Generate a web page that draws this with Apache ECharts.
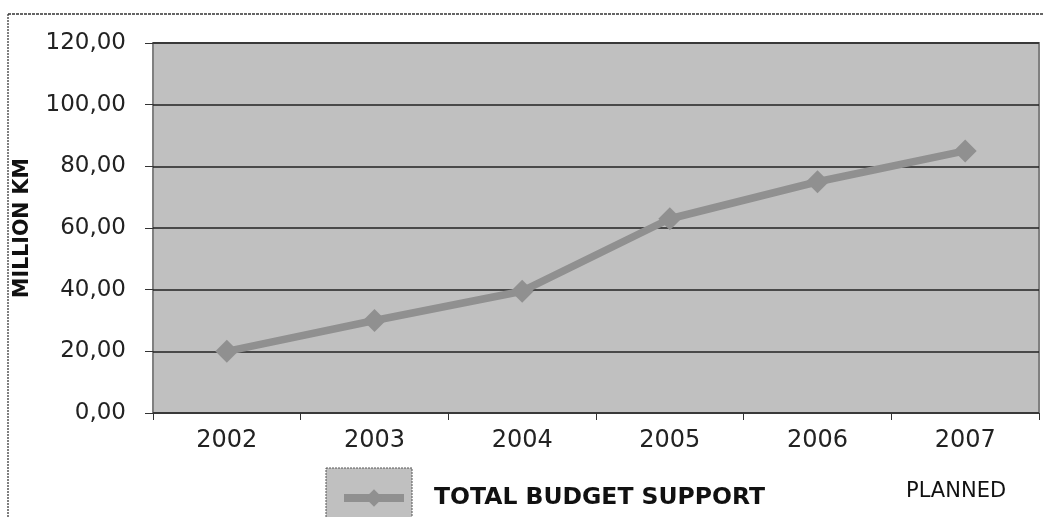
<!DOCTYPE html>
<html>
<head>
<meta charset="utf-8">
<script src="https://cdn.jsdelivr.net/npm/echarts@6/dist/echarts.min.js"></script>
<style>
  html, body { margin: 0; padding: 0; background: #fff; }
  #chart { width: 1043px; height: 517px; }
</style>
</head>
<body>
<div id="chart"></div>
<script>
// data
const years = ['2002', '2003', '2004', '2005', '2006', '2007']
const budgetSupport = [20, 30, 39.5, 63, 75, 85]
const seriesName = 'TOTAL BUDGET SUPPORT'
const noteText = 'PLANNED'
const yTitle = 'MILLION KM'

const font = 'DejaVu Sans, Verdana, sans-serif'
const chart = echarts.init(document.getElementById('chart'))

const option = {
  animation: false,
  textStyle: { fontFamily: font },
  grid: {
    left: 153,
    right: 4,
    top: 43,
    bottom: 104,
    show: true,
    backgroundColor: '#c0c0c0',
    borderColor: '#808080',
    borderWidth: 2
  },
  legend: {
    left: 340,
    top: 486,
    padding: 0,
    itemWidth: 60,
    itemHeight: 22,
    itemGap: 0,
    data: [seriesName],
    lineStyle: { width: 8, color: '#909090' },
    itemStyle: { color: '#909090' },
    textStyle: {
      fontFamily: font,
      fontSize: 23.5,
      fontWeight: 'bold',
      color: '#111',
      padding: [0, 0, 0, 25]
    }
  },
  xAxis: {
    type: 'category',
    data: years,
    boundaryGap: true,
    axisLine: { show: false },
    axisTick: {
      show: true,
      length: 7,
      lineStyle: { color: '#333' }
    },
    axisLabel: {
      fontSize: 24,
      color: '#222',
      margin: 16
    },
    splitLine: { show: false }
  },
  yAxis: {
    type: 'value',
    min: 0,
    max: 120,
    interval: 20,
    name: yTitle,
    nameLocation: 'middle',
    nameRotate: 90,
    nameGap: 120,
    nameTextStyle: {
      fontFamily: font,
      fontSize: 20.5,
      fontWeight: 'bold',
      color: '#111'
    },
    axisLine: { show: false },
    axisTick: {
      show: true,
      length: 8,
      lineStyle: { color: '#333' }
    },
    axisLabel: {
      fontSize: 23,
      color: '#222',
      margin: 27,
      formatter: (v) => v.toFixed(2).replace('.', ',')
    },
    splitLine: {
      show: true,
      lineStyle: { color: '#222', width: 1.5 }
    }
  },
  series: [
    {
      name: seriesName,
      type: 'line',
      data: budgetSupport,
      symbol: 'diamond',
      symbolSize: 23,
      lineStyle: { color: '#909090', width: 7.5 },
      itemStyle: { color: '#909090' },
      z: 5
    }
  ],
  graphic: [
    // outer chart frame (left and top visible)
    {
      type: 'line',
      shape: { x1: 8, y1: 14, x2: 8, y2: 517 },
      style: { stroke: '#555', lineWidth: 1.5, lineDash: [2, 1] }
    },
    {
      type: 'line',
      shape: { x1: 8, y1: 14, x2: 1043, y2: 14 },
      style: { stroke: '#333', lineWidth: 1.5, lineDash: [3, 1] }
    },
    // legend key box
    {
      type: 'rect',
      z: -1,
      shape: { x: 326, y: 468, width: 86, height: 60 },
      style: { fill: '#c0c0c0', stroke: '#555', lineWidth: 1, lineDash: [2, 1] }
    },
    {
      type: 'text',
      left: 906,
      top: 481,
      style: {
        text: noteText,
        fontSize: 21,
        fill: '#111',
        fontFamily: font
      }
    }
  ]
}

chart.setOption(option)
</script>
</body>
</html>
